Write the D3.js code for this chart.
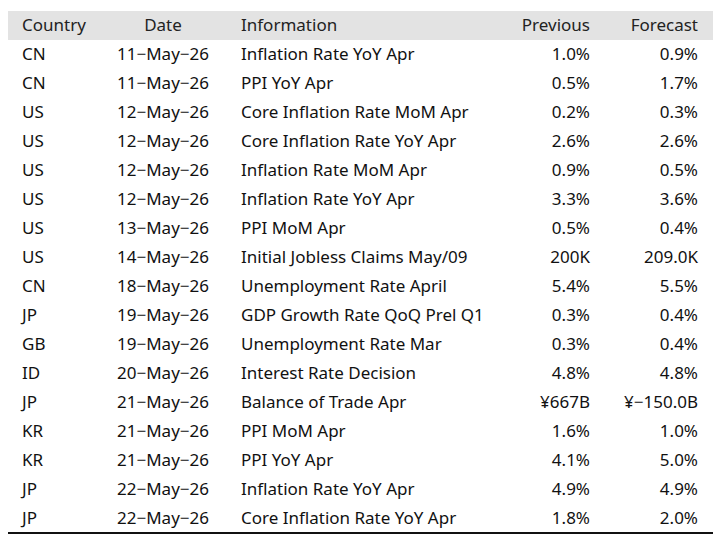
<!DOCTYPE html><html><head><meta charset="utf-8"><script src="https://cdn.jsdelivr.net/npm/d3@7"></script>
<style>body{margin:0;background:#fff}</style></head><body><svg id="c" width="720" height="546"></svg>
<script>
const headers=["Country","Date","Information","Previous","Forecast"];
const countries=["CN","CN","US","US","US","US","US","US","CN","JP","GB","ID","JP","KR","KR","JP","JP"];
const dates=["11-May-26","11-May-26","12-May-26","12-May-26","12-May-26","12-May-26","13-May-26","14-May-26","18-May-26","19-May-26","19-May-26","20-May-26","21-May-26","21-May-26","21-May-26","22-May-26","22-May-26"];
const info=["Inflation Rate YoY Apr","PPI YoY Apr","Core Inflation Rate MoM Apr","Core Inflation Rate YoY Apr","Inflation Rate MoM Apr","Inflation Rate YoY Apr","PPI MoM Apr","Initial Jobless Claims May/09","Unemployment Rate April","GDP Growth Rate QoQ Prel Q1","Unemployment Rate Mar","Interest Rate Decision","Balance of Trade Apr","PPI MoM Apr","PPI YoY Apr","Inflation Rate YoY Apr","Core Inflation Rate YoY Apr"];
const previous=["1.0%","0.5%","0.2%","2.6%","0.9%","3.3%","0.5%","200K","5.4%","0.3%","0.3%","4.8%","¥667B","1.6%","4.1%","4.9%","1.8%"];
const forecast=["0.9%","1.7%","0.3%","2.6%","0.5%","3.6%","0.4%","209.0K","5.5%","0.4%","0.4%","4.8%","¥−150.0B","1.0%","5.0%","4.9%","2.0%"];
const svg=d3.select("#c");
const y=d3.scaleBand().domain(d3.range(-1,countries.length)).range([11,533]).paddingInner(0);
svg.append("rect").attr("x",8).attr("y",y(-1)).attr("width",705).attr("height",y.bandwidth()).attr("fill","#e3e3e3");
const cols=[{x:22,a:"start"},{x:163,a:"middle"},{x:241,a:"start"},{x:590,a:"end"},{x:698,a:"end"}];
const f="'Noto Sans',sans-serif";
headers.forEach((h,i)=>svg.append("text").attr("x",cols[i].x).attr("y",y(-1)+y.bandwidth()/2).attr("dy","0.35em").attr("text-anchor",cols[i].a).attr("font-family",f).attr("font-size",17).attr("fill","#222").text(h));
const rows=countries.map((c,i)=>[c,dates[i].replace(/-/g,"−"),info[i],previous[i],forecast[i]]);
rows.forEach((r,j)=>r.forEach((v,i)=>svg.append("text").attr("x",cols[i].x).attr("y",y(j)+y.bandwidth()/2).attr("dy","0.35em").attr("text-anchor",cols[i].a).attr("font-family",f).attr("font-size",17).attr("fill","#111").text(v)));
svg.append("line").attr("x1",8).attr("x2",713).attr("y1",533).attr("y2",533).attr("stroke","#111").attr("stroke-width",2);
</script></body></html>
